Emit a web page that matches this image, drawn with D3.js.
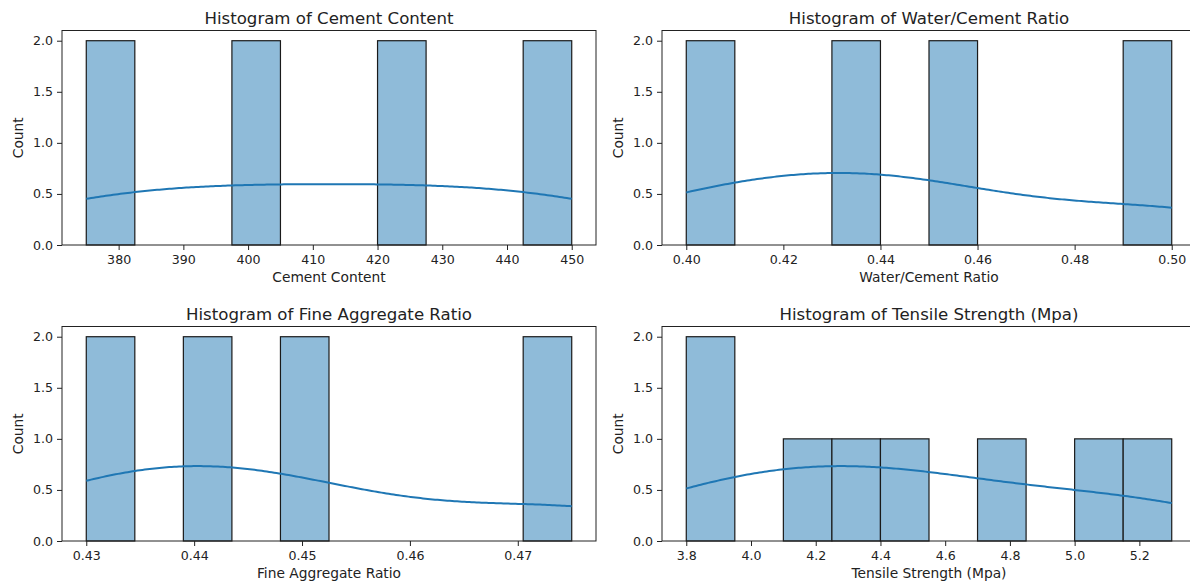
<!DOCTYPE html>
<meta charset="utf-8">
<script src="https://d3js.org/d3.v7.min.js"></script>
<style>
  body { margin: 0; background: #fff; overflow: hidden; }
  text { font-family: "DejaVu Sans", sans-serif; fill: #222; }
</style>
<div id="chart"></div>
<script>

// raw samples
var cementContent = [375, 375, 400, 400, 425, 425, 450, 450];
var waterCementRatio = [0.40, 0.40, 0.43, 0.43, 0.45, 0.45, 0.50, 0.50];
var fineAggregateRatio = [0.43, 0.43, 0.44, 0.44, 0.45, 0.45, 0.475, 0.475];
var tensileStrength = [3.8, 3.9, 4.2, 4.3, 4.5, 4.7, 5.1, 5.3];

// axis labels / tick labels
var varNames = ["Cement Content", "Water/Cement Ratio", "Fine Aggregate Ratio", "Tensile Strength (Mpa)"];
var xTicks1 = [380, 390, 400, 410, 420, 430, 440, 450];
var xTicks2 = [0.40, 0.42, 0.44, 0.46, 0.48, 0.50];
var xTicks3 = [0.43, 0.44, 0.45, 0.46, 0.47];
var xTicks4 = [3.8, 4.0, 4.2, 4.4, 4.6, 4.8, 5.0, 5.2];
var yTicks = [0, 0.5, 1.0, 1.5, 2.0];

var panels = [
  {values: cementContent, name: varNames[0], ticks: xTicks1, fmt: d3.format("d"), x0: 62, y0: 30.5},
  {values: waterCementRatio, name: varNames[1], ticks: xTicks2, fmt: d3.format(".2f"), x0: 662, y0: 30.5},
  {values: fineAggregateRatio, name: varNames[2], ticks: xTicks3, fmt: d3.format(".2f"), x0: 62, y0: 326.5},
  {values: tensileStrength, name: varNames[3], ticks: xTicks4, fmt: d3.format(".1f"), x0: 662, y0: 326.5}
];

var W = 534, H = 214.5, nBins = 10;

var svg = d3.select("#chart").append("svg")
  .attr("width", 1190)
  .attr("height", 588);

panels.forEach(function(p) {
  var lo = d3.min(p.values), hi = d3.max(p.values), span = hi - lo;
  var bw = span / nBins;

  // histogram counts (numpy style, last bin closed)
  var counts = d3.range(nBins).map(function() { return 0; });
  p.values.forEach(function(v) {
    var i = Math.min(Math.floor((v - lo) / bw + 1e-9), nBins - 1);
    counts[i] += 1;
  });
  var bins = counts.map(function(c, i) { return {x0: lo + i * bw, x1: lo + (i + 1) * bw, count: c}; })
    .filter(function(b) { return b.count > 0; });

  var x = d3.scaleLinear().domain([lo - 0.05 * span, hi + 0.05 * span]).range([0, W]);
  var y = d3.scaleLinear().domain([0, 2.1]).range([H, 0]);

  var g = svg.append("g").attr("transform", "translate(" + p.x0 + "," + p.y0 + ")");

  g.selectAll("rect.bar")
    .data(bins)
    .enter()
    .append("rect")
    .attr("class", "bar")
    .attr("x", function(d) { return x(d.x0); })
    .attr("y", function(d) { return y(d.count); })
    .attr("width", function(d) { return x(d.x1) - x(d.x0); })
    .attr("height", function(d) { return H - y(d.count); })
    .attr("fill", "#8fbbd9")
    .attr("stroke", "#1a1a1a")
    .attr("stroke-width", 1.2);

  // gaussian kde, scott bandwidth, scaled to counts
  var n = p.values.length;
  var sd = d3.deviation(p.values);
  var h = sd * Math.pow(n, -0.2);
  var grid = d3.range(200).map(function(i) { return lo + span * i / 199; });
  var kde = grid.map(function(t) {
    var s = d3.sum(p.values, function(v) { var u = (t - v) / h; return Math.exp(-0.5 * u * u); });
    return [t, s / (n * h * Math.sqrt(2 * Math.PI)) * n * bw];
  });

  g.append("path")
    .datum(kde)
    .attr("fill", "none")
    .attr("stroke", "#1f77b4")
    .attr("stroke-width", 2)
    .attr("d", d3.line()
      .x(function(d) { return x(d[0]); })
      .y(function(d) { return y(d[1]); }));

  // axes
  var xa = g.append("g")
    .attr("transform", "translate(0," + H + ")")
    .call(d3.axisBottom(x).tickValues(p.ticks).tickFormat(p.fmt).tickSizeOuter(0).tickSize(5).tickPadding(5));
  var ya = g.append("g")
    .call(d3.axisLeft(y).tickValues(yTicks).tickFormat(d3.format(".1f")).tickSizeOuter(0).tickSize(5).tickPadding(4));
  [xa, ya].forEach(function(a) {
    a.select(".domain").remove();
    a.selectAll("line").attr("stroke", "#222");
    a.selectAll("text").style("font-size", "12.6px").style("fill", "#222");
  });

  g.append("rect")
    .attr("width", W)
    .attr("height", H)
    .attr("fill", "none")
    .attr("stroke", "#222")
    .attr("stroke-width", 1);

  g.append("text")
    .attr("x", W / 2)
    .attr("y", -7)
    .attr("text-anchor", "middle")
    .style("font-size", "16.6px")
    .text("Histogram of " + p.name);

  g.append("text")
    .attr("x", W / 2)
    .attr("y", H + 37)
    .attr("text-anchor", "middle")
    .style("font-size", "13.8px")
    .text(p.name);

  g.append("text")
    .attr("transform", "rotate(-90)")
    .attr("x", -H / 2)
    .attr("y", -39)
    .attr("text-anchor", "middle")
    .style("font-size", "13.8px")
    .text("Count");
});

</script>
